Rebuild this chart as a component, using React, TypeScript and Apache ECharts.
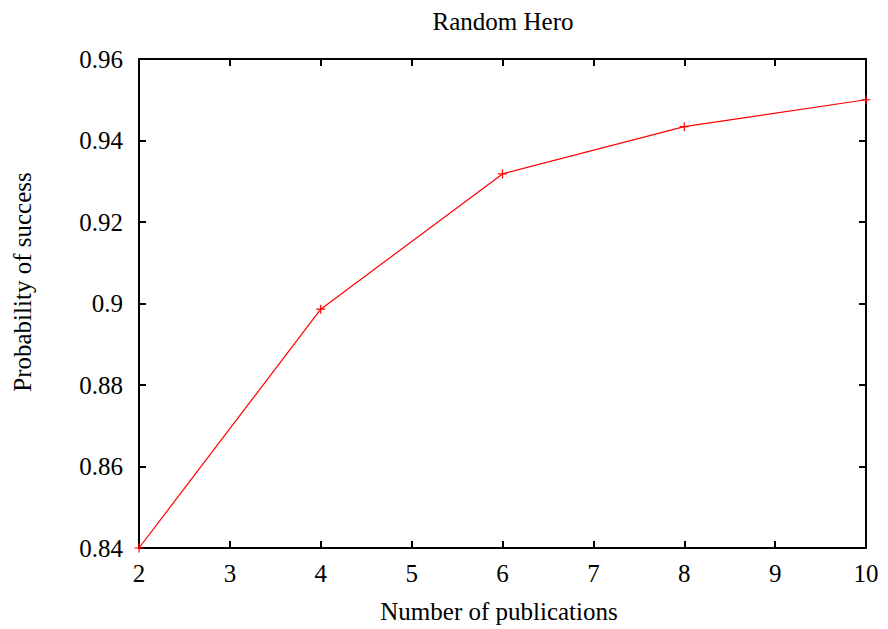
import React, { useEffect, useRef } from "react";
import * as echarts from "echarts";

const xValues = [2, 4, 6, 8, 10];
const yValues = [0.84, 0.8986, 0.9318, 0.9434, 0.95];
const titleText = "Random Hero";
const xName = "Number of publications";
const yName = "Probability of success";

export default function App() {
  const ref = useRef<HTMLDivElement>(null);
  useEffect(() => {
    document.body.style.margin = "0";
    const chart = echarts.init(ref.current!, null, { renderer: "svg" });
    const font = "Liberation Serif";
    const axisCommon = {
      axisLine: { show: true, onZero: false, lineStyle: { color: "#000", width: 2 } },
      axisTick: { show: true, inside: true, length: 7, lineStyle: { color: "#000", width: 2 } },
      splitLine: { show: false },
    };
    const textStyle = (text: string) => ({
      text,
      fontFamily: font,
      fontSize: 25,
      fill: "#000",
      align: "center",
      verticalAlign: "middle",
    });
    chart.setOption({
      animation: false,
      backgroundColor: "#fff",
      graphic: [
        { type: "text", x: 503, y: 21, style: textStyle(titleText) },
        { type: "text", x: 499, y: 611, style: textStyle(xName) },
        { type: "text", x: 22, y: 282, rotation: Math.PI / 2, style: textStyle(yName) },
      ],
      grid: { left: 139, right: 22, top: 59, bottom: 81, containLabel: false, outerBoundsMode: "none" },
      xAxis: [
        {
          type: "value",
          min: 2,
          max: 10,
          interval: 1,
          position: "bottom",
          axisLabel: { fontFamily: font, fontSize: 25, color: "#000", margin: 13 },
          ...axisCommon,
        },
        {
          type: "value",
          min: 2,
          max: 10,
          interval: 1,
          position: "top",
          axisLabel: { show: false },
          ...axisCommon,
        },
      ],
      yAxis: [
        {
          type: "value",
          min: 0.84,
          max: 0.96,
          interval: 0.02,
          position: "left",
          axisLabel: {
            fontFamily: font,
            fontSize: 25,
            color: "#000",
            margin: 16,
            formatter: (v: number) => String(Number(v.toFixed(2))),
          },
          ...axisCommon,
        },
        {
          type: "value",
          min: 0.84,
          max: 0.96,
          interval: 0.02,
          position: "right",
          axisLabel: { show: false },
          ...axisCommon,
        },
      ],
      series: [
        {
          type: "line",
          data: xValues.map((x, i) => [x, yValues[i]]),
          lineStyle: { color: "#ff0000", width: 1.2 },
          symbol: "path://M0,5L10,5M5,0L5,10",
          symbolSize: 9,
          itemStyle: { color: "none", borderColor: "#ff0000", borderWidth: 1.2 },
          showSymbol: true,
          clip: false,
        },
      ],
    });
    return () => chart.dispose();
  }, []);
  return <div ref={ref} style={{ width: 888, height: 629 }} />;
}
